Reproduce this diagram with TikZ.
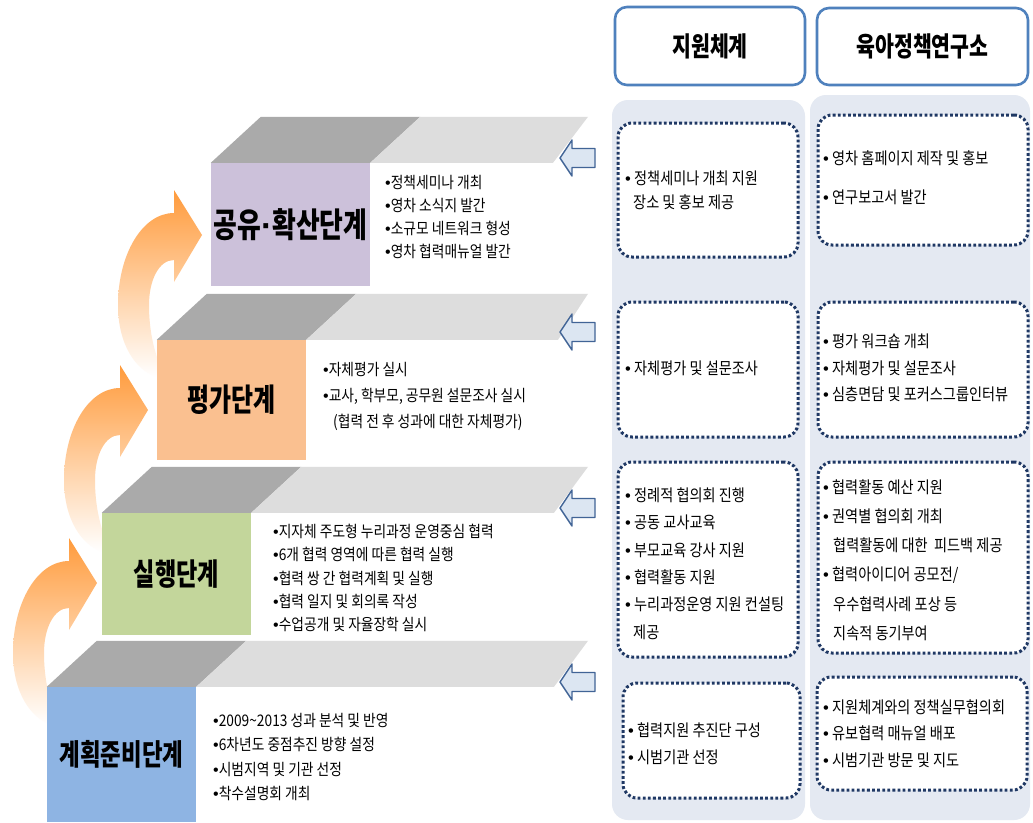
\documentclass[tikz,border=0pt]{standalone}
\usepackage{fontspec}
\setmainfont{Noto Sans CJK KR}[FakeStretch=0.86]
\newfontfamily\krc{Noto Sans CJK KR}[FakeStretch=0.76]
\newfontfamily\lat{Liberation Sans}
\newcommand\bu{{\lat •}}
\definecolor{panelbg}{RGB}{228,233,242}
\definecolor{hdrblue}{RGB}{79,129,189}
\definecolor{dotnavy}{RGB}{31,56,100}
\definecolor{dgray}{RGB}{170,170,170}
\definecolor{lgray}{RGB}{221,221,221}
\definecolor{cpurple}{RGB}{204,193,218}
\definecolor{corange}{RGB}{250,192,144}
\definecolor{cgreen}{RGB}{195,214,155}
\definecolor{cblue}{RGB}{142,180,227}
\definecolor{arrOr}{RGB}{255,155,60}
\definecolor{barfill}{RGB}{220,230,242}
\definecolor{barstroke}{RGB}{65,100,150}
\begin{document}
\begin{tikzpicture}[x=1pt,y=-1pt,
  stagebox/.style={inner sep=0pt},
  hdr/.style={draw=hdrblue, line width=2.6pt, rounded corners=12pt, fill=white, inner sep=0pt,
    font=\krc\fontsize{27}{30}\selectfont\bfseries},
  dotbox/.style={draw=dotnavy, line width=3pt, dash pattern=on 2.8pt off 2.3pt,
    rounded corners=14pt, fill=white, inner sep=0pt},
  steptext/.style={anchor=west, align=left, inner sep=0pt},
  paneltext/.style={anchor=west, align=left, inner sep=0pt},
  curvarrow/.pic={
    \shade[top color=arrOr, middle color=arrOr!55, bottom color=white]
      (0,0) -- (-28,-45) -- (-28,-22)
      .. controls (-60,-22) and (-84,20) .. (-84,70)
      .. controls (-84,110) and (-66,135) .. (-46,142)
      -- (-38,138)
      .. controls (-48,120) and (-53,95) .. (-53,70)
      .. controls (-53,45) and (-43,25) .. (-28,25)
      -- (-28,47) -- cycle;
  },
  leftarr/.pic={
    \draw[fill=barfill, draw=barstroke, line width=1.4pt, line join=round]
      (0,0) -- (12,-18) -- (12,-9.5) -- (35,-9.5) -- (35,9.5) -- (12,9.5) -- (12,18) -- cycle;
  }
]
\useasboundingbox (0,0) rectangle (1033,822);
\fill[white] (0,0) rectangle (1033,822);

% curved orange arrows
\pic at (97,583) {curvarrow};
\pic at (148,410) {curvarrow};
\pic at (202,235) {curvarrow};

% stage boxes
\node[stagebox, fill=cpurple, minimum width=159pt, minimum height=123pt,
  font=\krc\fontsize{34}{38}\selectfont\bfseries] (s4) at (290.5,224.5) {공유{\lat\bfseries ·}확산단계};
\node[stagebox, fill=corange, minimum width=149pt, minimum height=120pt,
  font=\krc\fontsize{31.5}{35}\selectfont\bfseries] (s3) at (231.5,400) {평가단계};
\node[stagebox, fill=cgreen, minimum width=149pt, minimum height=122pt,
  font=\krc\fontsize{30.5}{34}\selectfont\bfseries] (s2) at (176.5,574) {실행단계};
\node[stagebox, fill=cblue, minimum width=149pt, minimum height=135pt,
  font=\krc\fontsize{29.5}{33}\selectfont\bfseries] (s1) at (121.5,754.5) {계획준비단계};

% top faces
\foreach \s/\tr/\br in {s4/588/553, s3/588/558, s2/588/554, s1/588/554}{
  \fill[dgray] (\s.north west) -- ([xshift=50pt,yshift=46pt]\s.north west)
     -- ([xshift=50pt,yshift=46pt]\s.north east) -- (\s.north east) -- cycle;
  \fill[lgray] (\s.north east) -- ([xshift=50pt,yshift=46pt]\s.north east)
     -- ([yshift=46pt]\s.north east -| \tr,0) -- (\s.north east -| \br,0) -- cycle;
}

% stage bullet texts
\node[steptext, font=\fontsize{16}{23.3}\selectfont] (t4) at (385,217)
  {\bu 정책세미나 개최\\\bu 영차 소식지 발간\\\bu 소규모 네트워크 형성\\\bu 영차 협력매뉴얼 발간};
\node[steptext, font=\fontsize{16}{26}\selectfont] (t3) at (323,396)
  {\bu 자체평가 실시\\\bu 교사, 학부모, 공무원 설문조사 실시\\\hspace*{10pt}(협력 전 후 성과에 대한 자체평가)};
\node[steptext, font=\fontsize{16}{23.3}\selectfont] (t2) at (273,578)
  {\bu 지자체 주도형 누리과정 운영중심 협력\\\bu 6개 협력 영역에 따른 협력 실행\\\bu 협력 쌍 간 협력계획 및 실행\\\bu 협력 일지 및 회의록 작성\\\bu 수업공개 및 자율장학 실시};
\node[steptext, font=\fontsize{16}{24.3}\selectfont] (t1) at (213,757)
  {\bu 2009\textasciitilde 2013 성과 분석 및 반영\\\bu 6차년도 중점추진 방향 설정\\\bu 시범지역 및 기관 선정\\\bu 착수설명회 개최};

% blue left arrows
\foreach \c in {158,332,508,682}{
  \pic at (560,\c) {leftarr};
}

% panels
\fill[panelbg, rounded corners=16pt] (612,100) rectangle (805,820);
\fill[panelbg, rounded corners=16pt] (810,95) rectangle (1030,820);

% headers
\node[hdr, minimum width=190pt, minimum height=78pt] (h1) at (710,46) {지원체계};
\node[hdr, minimum width=211pt, minimum height=77pt] (h2) at (922.5,46.5) {육아정책연구소};

% dotted boxes column 1
\node[dotbox, minimum width=180pt, minimum height=134pt] (a1) at (708,190) {};
\node[dotbox, minimum width=180pt, minimum height=135pt] (a2) at (708,369.5) {};
\node[dotbox, minimum width=180pt, minimum height=195pt] (a3) at (708,559.5) {};
\node[dotbox, minimum width=177pt, minimum height=115pt] (a4) at (711.5,740.5) {};
% dotted boxes column 2
\node[dotbox, minimum width=210pt, minimum height=130pt] (b1) at (923,180) {};
\node[dotbox, minimum width=210pt, minimum height=135pt] (b2) at (923,369.5) {};
\node[dotbox, minimum width=210pt, minimum height=191pt] (b3) at (923,557.5) {};
\node[dotbox, minimum width=210pt, minimum height=113pt] (b4) at (922,733.5) {};

% panel texts
\node[paneltext, font=\fontsize{16.5}{24}\selectfont] (a1t) at (625,190)
  {\bu\ 정책세미나 개최 지원\\\hspace*{8pt}장소 및 홍보 제공};
\node[paneltext, font=\fontsize{16.5}{24}\selectfont] (a2t) at (625,368)
  {\bu\ 자체평가 및 설문조사};
\node[paneltext, font=\fontsize{16.5}{27.4}\selectfont] (a3t) at (625,563.5)
  {\bu\ 정례적 협의회 진행\\\bu\ 공동 교사교육\\\bu\ 부모교육 강사 지원\\\bu\ 협력활동 지원\\\bu\ 누리과정운영 지원 컨설팅\\\hspace*{8pt}제공};
\node[paneltext, font=\fontsize{16.5}{27}\selectfont] (a4t) at (628,743.5)
  {\bu\ 협력지원 추진단 구성\\\bu\ 시범기관 선정};
\node[paneltext, font=\fontsize{16.5}{39}\selectfont] (b1t) at (823,177.5)
  {\bu\ 영차 홈페이지 제작 및 홍보\\\bu\ 연구보고서 발간};
\node[paneltext, font=\fontsize{16.5}{26.5}\selectfont] (b2t) at (823,368)
  {\bu\ 평가 워크숍 개최\\\bu\ 자체평가 및 설문조사\\\bu\ 심층면담 및 포커스그룹인터뷰};
\node[paneltext, font=\fontsize{16.5}{29.2}\selectfont] (b3t) at (823,560)
  {\bu\ 협력활동 예산 지원\\\bu\ 권역별 협의회 개최\\\hspace*{10pt}협력활동에 대한~~피드백 제공\\\bu\ 협력아이디어 공모전/\\\hspace*{10pt}우수협력사례 포상 등\\\hspace*{10pt}지속적 동기부여};
\node[paneltext, font=\fontsize{16.5}{26.5}\selectfont] (b4t) at (823,733.5)
  {\bu\ 지원체계와의 정책실무협의회\\\bu\ 유보협력 매뉴얼 배포\\\bu\ 시범기관 방문 및 지도};
\end{tikzpicture}
\end{document}
